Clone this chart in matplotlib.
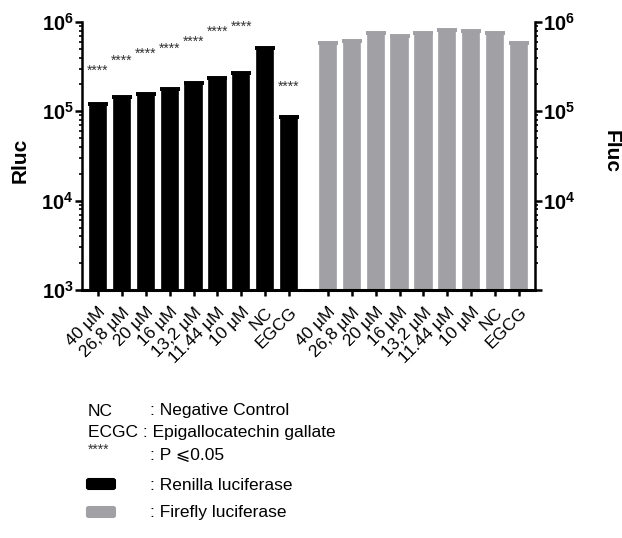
import matplotlib.pyplot as plt
from matplotlib.patches import FancyBboxPatch
from matplotlib.ticker import FixedLocator, LogLocator, NullFormatter
from matplotlib.transforms import ScaledTranslation

plt.rcParams['font.family'] = ['Liberation Sans', 'DejaVu Sans']
plt.rcParams['mathtext.fontset'] = 'custom'
plt.rcParams['mathtext.rm'] = 'Liberation Sans:bold'
plt.rcParams['mathtext.bf'] = 'Liberation Sans:bold'

labels = ['40 µM', '26,8 µM', '20 µM', '16 µM', '13,2 µM', '11.44 µM', '10 µM', 'NC', 'EGCG']
rluc = [1.20e5, 1.44e5, 1.56e5, 1.79e5, 2.06e5, 2.34e5, 2.69e5, 5.15e5, 8.7e4]
fluc = [5.77e5, 6.17e5, 7.5e5, 7.03e5, 7.5e5, 8.07e5, 7.9e5, 7.5e5, 5.77e5]
star_y = [2.83e5, 3.66e5, 4.38e5, 4.99e5, 5.97e5, 7.73e5, 8.8e5, None, 1.87e5]
group_gap = 9.63

black = '#000000'
grey = '#a0a0a5'

fig = plt.figure(figsize=(6.22, 5.38), dpi=100)
ax = fig.add_axes([82/622, 1-290/538, (535-82)/622, (290-22)/538])

x1 = list(range(len(labels)))
x2 = [i + group_gap for i in x1]

def draw_bars(xs, vals, color):
    ax.bar(xs, vals, width=0.68, bottom=1e3, color=color, edgecolor=color,
           linewidth=1.2, joinstyle='round', zorder=2)
    ax.errorbar(xs, vals, yerr=[[0]*len(vals), [0]*len(vals)], fmt='none',
                ecolor=color, capsize=7, capthick=2.6, elinewidth=0, zorder=3)

draw_bars(x1, rluc, black)
draw_bars(x2, fluc, grey)

for x, y in zip(x1, star_y):
    if y is not None:
        ax.text(x, y, '****', ha='center', va='center', fontsize=10, color='#333333')

ax.set_yscale('log')
ax.set_ylim(1e3, 1e6)
ax.set_xlim(-0.67, 18.3)

ax.yaxis.set_major_locator(FixedLocator([1e3, 1e4, 1e5, 1e6]))
ax.set_yticklabels([r'$\mathrm{10^{3}}$', r'$\mathrm{10^{4}}$', r'$\mathrm{10^{5}}$', r'$\mathrm{10^{6}}$'])
ax.yaxis.set_minor_locator(LogLocator(base=10, subs=range(2, 10)))
ax.yaxis.set_minor_formatter(NullFormatter())

ax.set_xticks(x1 + x2)
ax.set_xticklabels(labels + labels, rotation=45, ha='right', va='top',
                   rotation_mode='anchor', fontsize=12.5)
shift = ScaledTranslation(4/100, 0, fig.dpi_scale_trans)
for lab in ax.get_xticklabels():
    lab.set_transform(lab.get_transform() + shift)

ax.tick_params(axis='y', which='both', left=True, right=True, labelleft=True,
               labelright=True, direction='out', labelsize=14.5)
ax.tick_params(axis='y', which='major', length=5, width=1.8, pad=1)
ax.tick_params(axis='y', which='minor', length=2.5, width=1.2)
ax.tick_params(axis='x', length=4.5, width=1.8, pad=6)
ax.yaxis.get_major_ticks()[0].label2.set_visible(False)

for side in ['left', 'right']:
    ax.spines[side].set_linewidth(1.8)
ax.spines['bottom'].set_linewidth(2.2)
ax.spines['top'].set_visible(False)

fig.text(20/622, 1-160/538, 'Rluc', rotation=90, ha='center', va='center',
         fontsize=15, fontweight='bold')
fig.text(611/622, 1-152/538, 'Fluc', rotation=270, ha='center', va='center',
         fontsize=15, fontweight='bold')

# key below the chart
fs = 12.5
def ty(y):
    return 1 - y/538
fig.text(88/622, ty(411), 'NC', fontsize=fs, va='center')
fig.text(150/622, ty(411), ': Negative Control', fontsize=fs, va='center')
fig.text(88/622, ty(432), 'ECGC : Epigallocatechin gallate', fontsize=fs, va='center')
fig.text(88/622, ty(450), '****', fontsize=10, va='center', color='#333333')
fig.text(150/622, ty(455), ': P \u2a7d0.05', fontsize=fs, va='center')
fig.text(150/622, ty(485), ': Renilla luciferase', fontsize=fs, va='center')
fig.text(150/622, ty(512), ': Firefly luciferase', fontsize=fs, va='center')

for y0, c in [(479, black), (507, grey)]:
    fig.patches.append(FancyBboxPatch((87/622, ty(y0+10)), 28/622, 10/538,
                                      boxstyle='round,pad=0,rounding_size=0.003',
                                      facecolor=c, edgecolor=c, linewidth=1.5,
                                      transform=fig.transFigure, figure=fig))

fig.savefig('out.png', dpi=100)
